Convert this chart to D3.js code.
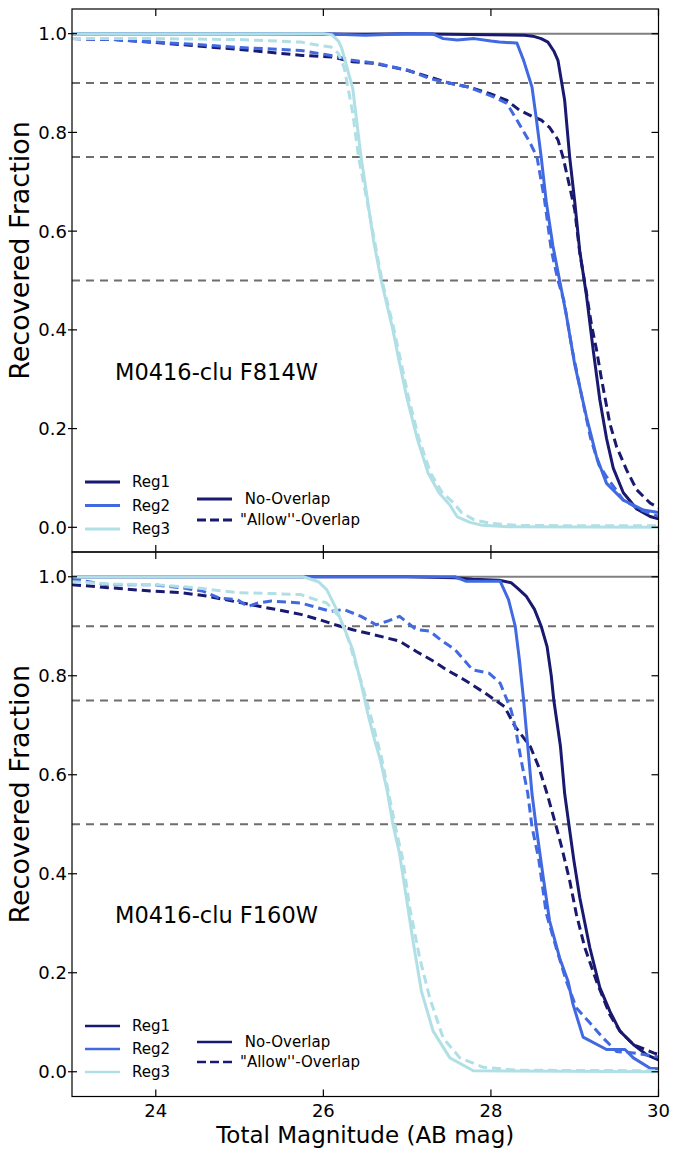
<!DOCTYPE html>
<html><head><meta charset="utf-8">
<script src="https://cdn.jsdelivr.net/npm/d3@7"></script>
<style>body{margin:0;background:#fff}svg{display:block}text{font-family:"DejaVu Sans",sans-serif}</style>
</head><body>
<svg id="c" width="673" height="1150"></svg>
<script>
// ---------- data (magnitude, recovered fraction) ----------
const xTicks = [24, 26, 28, 30];
const yTicks = [0.0, 0.2, 0.4, 0.6, 0.8, 1.0];
const refLevels = [0.9, 0.75, 0.5];
const regionNames = ["Reg1", "Reg2", "Reg3"];
const regionColors = ["#191970", "#4169E1", "#B0E0E6"];
const panelTitles = ["M0416-clu F814W", "M0416-clu F160W"];

const f814_reg1_noOverlap = [[23,1.0],[25,1.0],[26.5,0.999],[27,1.0],[28,0.998],[28.4,0.997],[28.5,0.995],[28.6,0.99],[28.68,0.983],[28.75,0.965],[28.8,0.946],[28.88,0.865],[28.94,0.75],[29.0,0.66],[29.06,0.56],[29.14,0.47],[29.22,0.36],[29.3,0.258],[29.38,0.18],[29.46,0.12],[29.58,0.07],[29.74,0.037],[29.9,0.022],[30,0.017]];
const f814_reg1_allow = [[23,0.99],[23.5,0.988],[24,0.982],[24.5,0.975],[25,0.968],[25.5,0.96],[25.75,0.956],[26.1,0.953],[26.35,0.943],[26.6,0.94],[27.0,0.926],[27.27,0.912],[27.5,0.9],[27.73,0.892],[27.98,0.879],[28.19,0.865],[28.34,0.845],[28.5,0.832],[28.6,0.825],[28.7,0.81],[28.8,0.785],[28.86,0.75],[28.94,0.69],[29.0,0.643],[29.06,0.556],[29.14,0.475],[29.2,0.41],[29.26,0.36],[29.32,0.30],[29.42,0.21],[29.5,0.163],[29.62,0.116],[29.74,0.076],[29.9,0.049],[30,0.04]];
const f814_reg2_noOverlap = [[23,1.0],[25,1.0],[26,1.0],[26.5,0.997],[27,1.0],[27.3,1.0],[27.43,0.99],[27.6,0.987],[27.8,0.99],[28.0,0.985],[28.1,0.983],[28.31,0.981],[28.39,0.946],[28.49,0.892],[28.54,0.83],[28.6,0.75],[28.66,0.66],[28.74,0.57],[28.82,0.5],[28.9,0.43],[29.0,0.33],[29.14,0.224],[29.26,0.143],[29.38,0.089],[29.58,0.055],[29.82,0.035],[30,0.03]];
const f814_reg2_allow = [[23,0.99],[23.5,0.988],[24,0.983],[24.5,0.978],[25,0.972],[25.5,0.968],[25.73,0.966],[26.09,0.956],[26.35,0.946],[26.63,0.94],[27.01,0.926],[27.27,0.909],[27.5,0.9],[27.73,0.892],[28.03,0.872],[28.19,0.859],[28.31,0.825],[28.47,0.778],[28.55,0.75],[28.64,0.663],[28.72,0.562],[28.8,0.5],[28.87,0.46],[28.97,0.36],[29.09,0.26],[29.19,0.18],[29.29,0.126],[29.39,0.1],[29.58,0.055],[29.8,0.035],[30,0.022]];
const f814_reg3_noOverlap = [[23,1.0],[25,1.0],[26.0,1.0],[26.1,0.998],[26.18,0.985],[26.22,0.97],[26.3,0.92],[26.35,0.89],[26.45,0.75],[26.53,0.66],[26.6,0.58],[26.69,0.5],[26.83,0.4],[26.9,0.34],[27.0,0.26],[27.12,0.18],[27.25,0.11],[27.38,0.07],[27.51,0.045],[27.6,0.021],[27.75,0.01],[27.9,0.004],[28.2,0.001],[30,0.0]];
const f814_reg3_allow = [[23,0.99],[24,0.99],[25,0.988],[25.73,0.983],[26.0,0.975],[26.09,0.973],[26.18,0.96],[26.25,0.93],[26.35,0.84],[26.42,0.75],[26.5,0.68],[26.6,0.59],[26.7,0.5],[26.83,0.41],[26.92,0.34],[27.02,0.26],[27.14,0.18],[27.28,0.11],[27.42,0.07],[27.55,0.05],[27.65,0.03],[27.8,0.015],[28.0,0.008],[28.3,0.004],[29,0.003],[30,0.003]];

const f160_reg1_noOverlap = [[23,1.0],[27.0,1.0],[27.57,0.998],[27.78,0.995],[28.1,0.993],[28.24,0.988],[28.31,0.978],[28.42,0.961],[28.52,0.934],[28.6,0.9],[28.67,0.859],[28.72,0.8],[28.75,0.751],[28.83,0.657],[28.88,0.562],[28.93,0.5],[28.99,0.427],[29.06,0.352],[29.18,0.251],[29.3,0.17],[29.42,0.122],[29.54,0.082],[29.7,0.055],[29.86,0.034],[30,0.024]];
const f160_reg1_allow = [[23,0.984],[23.43,0.978],[23.95,0.971],[24.3,0.968],[24.61,0.961],[24.82,0.954],[25.12,0.944],[25.43,0.934],[25.73,0.924],[25.94,0.914],[26.14,0.903],[26.35,0.893],[26.6,0.883],[26.91,0.87],[27.11,0.849],[27.32,0.829],[27.47,0.812],[27.68,0.792],[27.93,0.765],[28.16,0.738],[28.29,0.697],[28.47,0.657],[28.57,0.616],[28.67,0.562],[28.78,0.495],[28.85,0.45],[28.94,0.386],[29.02,0.318],[29.12,0.251],[29.26,0.183],[29.42,0.115],[29.54,0.082],[29.7,0.055],[29.94,0.038],[30,0.035]];
const f160_reg2_noOverlap = [[23,1.0],[27.57,1.0],[27.7,0.991],[28.11,0.991],[28.21,0.954],[28.29,0.9],[28.34,0.832],[28.39,0.751],[28.44,0.657],[28.49,0.562],[28.54,0.495],[28.63,0.386],[28.7,0.305],[28.82,0.23],[28.92,0.183],[28.98,0.136],[29.1,0.07],[29.38,0.045],[29.6,0.045],[29.7,0.028],[29.9,0.007],[30,0.006]];
const f160_reg2_allow = [[23,0.995],[23.43,0.984],[23.95,0.984],[24.3,0.978],[24.56,0.971],[24.76,0.957],[24.97,0.954],[25.1,0.94],[25.22,0.947],[25.38,0.951],[25.73,0.947],[25.94,0.937],[26.09,0.93],[26.24,0.934],[26.45,0.92],[26.63,0.903],[26.76,0.91],[26.91,0.92],[27.11,0.893],[27.27,0.89],[27.42,0.87],[27.57,0.853],[27.78,0.812],[27.98,0.805],[28.11,0.785],[28.24,0.731],[28.29,0.697],[28.36,0.63],[28.44,0.562],[28.49,0.495],[28.57,0.43],[28.66,0.32],[28.78,0.25],[28.9,0.183],[29.02,0.129],[29.18,0.099],[29.34,0.068],[29.5,0.041],[29.7,0.038],[30,0.03]];
const f160_reg3_noOverlap = [[23,1.0],[25.76,1.0],[25.94,0.99],[26.04,0.974],[26.14,0.94],[26.24,0.9],[26.35,0.853],[26.45,0.785],[26.53,0.724],[26.6,0.677],[26.68,0.63],[26.76,0.569],[26.83,0.5],[26.91,0.44],[26.99,0.352],[27.07,0.264],[27.17,0.163],[27.31,0.082],[27.51,0.028],[27.79,0.002],[30,0.0]];
const f160_reg3_allow = [[23,0.99],[23.5,0.985],[24,0.984],[24.46,0.978],[24.97,0.968],[25.4,0.966],[25.73,0.964],[25.85,0.957],[26.04,0.947],[26.19,0.92],[26.3,0.873],[26.37,0.832],[26.47,0.778],[26.58,0.71],[26.7,0.63],[26.78,0.562],[26.86,0.495],[26.95,0.427],[27.03,0.332],[27.15,0.23],[27.27,0.149],[27.43,0.068],[27.63,0.028],[27.91,0.009],[28.31,0.003],[30,0.002]];

const panelSeries = [
  [[f814_reg1_noOverlap, f814_reg1_allow],[f814_reg2_noOverlap, f814_reg2_allow],[f814_reg3_noOverlap, f814_reg3_allow]],
  [[f160_reg1_noOverlap, f160_reg1_allow],[f160_reg2_noOverlap, f160_reg2_allow],[f160_reg3_noOverlap, f160_reg3_allow]]
];

// ---------- layout ----------
const svg = d3.select("#c");
const X0 = 72, X1 = 658.5;
const panels = [{top: 9, bottom: 552}, {top: 552, bottom: 1096.5}];
const x = d3.scaleLinear().domain([23, 30]).range([X0, X1]);
const TICK = 7;

panels.forEach((p, pi) => {
  const y = d3.scaleLinear().domain([-0.05, 1.05]).range([p.bottom, p.top]);
  const g = svg.append("g");
  const clipId = "clip" + pi;
  svg.append("clipPath").attr("id", clipId).append("rect")
    .attr("x", X0).attr("y", p.top).attr("width", X1 - X0).attr("height", p.bottom - p.top);
  const plot = g.append("g").attr("clip-path", `url(#${clipId})`);

  // reference lines
  plot.append("line").attr("x1", X0).attr("x2", X1).attr("y1", y(1.0)).attr("y2", y(1.0))
    .attr("stroke", "#808080").attr("stroke-width", 2);
  refLevels.forEach(v => {
    plot.append("line").attr("x1", X0).attr("x2", X1).attr("y1", y(v)).attr("y2", y(v))
      .attr("stroke", "#6e6e6e").attr("stroke-width", 2).attr("stroke-dasharray", "8,6");
  });

  const line = d3.line().x(d => x(d[0])).y(d => y(d[1]));
  panelSeries[pi].forEach((pair, ri) => {
    plot.append("path").attr("d", line(pair[0])).attr("fill", "none")
      .attr("stroke", regionColors[ri]).attr("stroke-width", 3).attr("stroke-linejoin", "round");
    plot.append("path").attr("d", line(pair[1])).attr("fill", "none")
      .attr("stroke", regionColors[ri]).attr("stroke-width", 3).attr("stroke-dasharray", "9,5");
  });

  // frame
  g.append("rect").attr("x", X0).attr("y", p.top).attr("width", X1 - X0).attr("height", p.bottom - p.top)
    .attr("fill", "none").attr("stroke", "#000").attr("stroke-width", 1.2);

  // ticks
  xTicks.forEach(t => {
    g.append("line").attr("x1", x(t)).attr("x2", x(t)).attr("y1", p.bottom).attr("y2", p.bottom - TICK).attr("stroke", "#000").attr("stroke-width", 1.2);
    g.append("line").attr("x1", x(t)).attr("x2", x(t)).attr("y1", p.top).attr("y2", p.top + TICK).attr("stroke", "#000").attr("stroke-width", 1.2);
  });
  yTicks.forEach(t => {
    g.append("line").attr("x1", X0 - 4).attr("x2", X0 + 5).attr("y1", y(t)).attr("y2", y(t)).attr("stroke", "#000").attr("stroke-width", 1.2);
    g.append("line").attr("x1", X1).attr("x2", X1 - TICK).attr("y1", y(t)).attr("y2", y(t)).attr("stroke", "#000").attr("stroke-width", 1.2);
    g.append("text").attr("x", X0 - 5).attr("y", y(t)).attr("dy", "0.36em")
      .attr("text-anchor", "end").attr("font-size", 18).text(d3.format(".1f")(t));
  });

  // y label
  const cy = (p.top + p.bottom) / 2 - 30;
  g.append("text").attr("transform", `translate(29,${cy}) rotate(-90)`)
    .attr("text-anchor", "middle").attr("font-size", 27).text("Recovered Fraction");

  // panel title
  g.append("text").attr("x", 115).attr("y", p.top + 371).attr("font-size", 22.5).text(panelTitles[pi]);

  // legend: regions
  const legTop = pi === 0 ? 482 : 1026;
  const legStep = pi === 0 ? 23.5 : 23;
  regionNames.forEach((n, i) => {
    const ly = legTop + i * legStep;
    g.append("line").attr("x1", 85).attr("x2", 120).attr("y1", ly).attr("y2", ly)
      .attr("stroke", regionColors[i]).attr("stroke-width", pi === 0 ? 3 : 2.5);
    g.append("text").attr("x", 132).attr("y", ly).attr("dy", "0.36em").attr("font-size", 15).text(n);
  });
  // legend: styles
  const s1 = pi === 0 ? 499 : 1042;
  const s2 = pi === 0 ? 520 : 1062;
  g.append("line").attr("x1", 197).attr("x2", 232).attr("y1", s1).attr("y2", s1)
    .attr("stroke", regionColors[0]).attr("stroke-width", pi === 0 ? 3 : 2.5);
  g.append("text").attr("x", 240).attr("y", s1).attr("dy", "0.36em").attr("font-size", 15).text("\u00a0No-Overlap");
  g.append("line").attr("x1", 197).attr("x2", 232).attr("y1", s2).attr("y2", s2)
    .attr("stroke", regionColors[0]).attr("stroke-width", pi === 0 ? 3 : 2.5).attr("stroke-dasharray", "9,4");
  g.append("text").attr("x", 240).attr("y", s2).attr("dy", "0.36em").attr("font-size", 15).text("\"Allow''-Overlap");

  // x tick labels on bottom panel
  if (pi === 1) {
    xTicks.forEach(t => {
      g.append("text").attr("x", x(t)).attr("y", 1117).attr("text-anchor", "middle").attr("font-size", 18).text(t);
    });
  }
});

svg.append("text").attr("x", (X0 + X1) / 2).attr("y", 1143).attr("text-anchor", "middle")
  .attr("font-size", 23).text("Total Magnitude (AB mag)");
</script>
</body></html>
